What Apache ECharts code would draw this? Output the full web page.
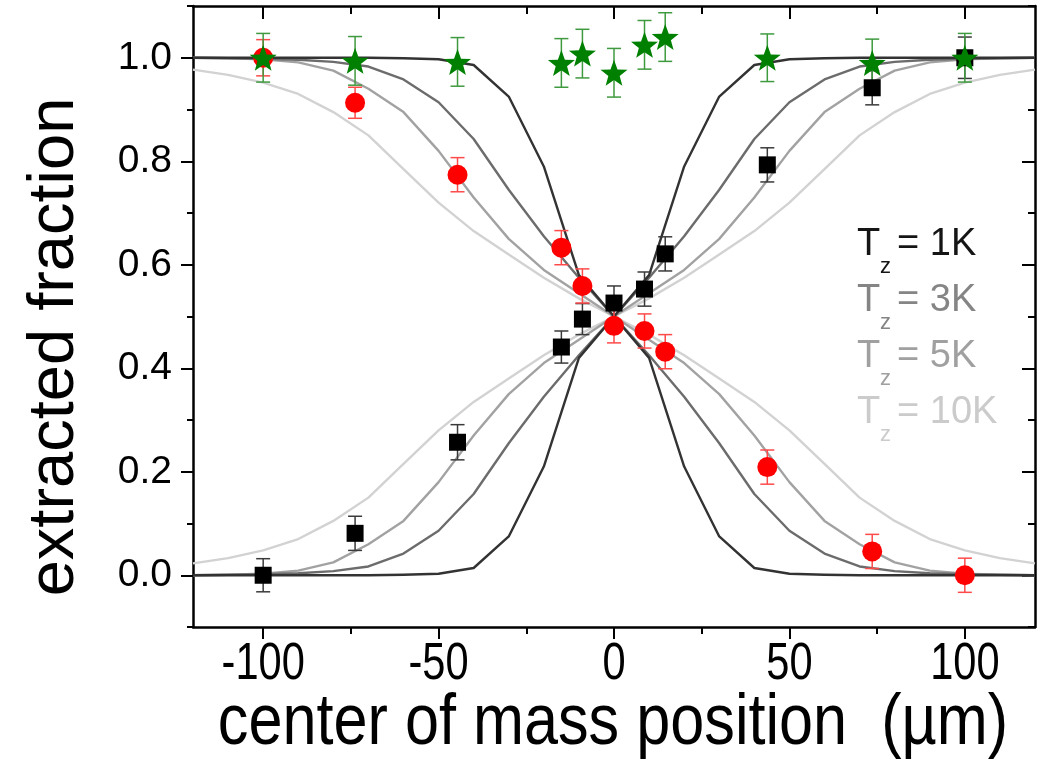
<!DOCTYPE html>
<html>
<head>
<meta charset="utf-8">
<script src="https://cdn.jsdelivr.net/npm/echarts@6/dist/echarts.min.js"></script>
<style>
  html, body { margin: 0; padding: 0; background: #ffffff; }
  #chart { width: 1050px; height: 764px; }
</style>
</head>
<body>
<div id="chart"></div>
<script>
// ---- measured data -------------------------------------------------------
const posSquares = [-100, -73.8, -44.6, -15, -9, 0, 8.7, 14.6, 43.7, 73.6, 100];
const valSquares = [0.0, 0.081, 0.257, 0.441, 0.495, 0.526, 0.553, 0.621, 0.793, 0.942, 1.0];
const errSquares = [0.032, 0.033, 0.034, 0.031, 0.030, 0.033, 0.033, 0.033, 0.033, 0.033, 0.040];

const posCircles = [-100, -73.8, -44.6, -15, -9, 0, 8.7, 14.6, 43.7, 73.6, 100];
const valCircles = [1.0, 0.913, 0.774, 0.633, 0.559, 0.482, 0.472, 0.432, 0.209, 0.046, 0.0];
const errCircles = [0.035, 0.030, 0.033, 0.033, 0.033, 0.033, 0.033, 0.033, 0.033, 0.033, 0.033];

const posStars = [-100, -73.8, -44.6, -15, -9, 0, 8.7, 14.6, 43.7, 73.6, 100];
const valStars = [1.0, 0.994, 0.992, 0.990, 1.008, 0.971, 1.025, 1.040, 1.000, 0.990, 1.0];
const errStars = [0.047, 0.047, 0.047, 0.047, 0.047, 0.047, 0.047, 0.047, 0.046, 0.046, 0.047];

// model curves, sampled every 10 µm
const curveX = [-120, -110, -100, -90, -80, -70, -60, -50, -40, -30, -20, -10, 0,
                10, 20, 30, 40, 50, 60, 70, 80, 90, 100, 110, 120];
const rise1K  = [0, 0, 0, 0, 0, 0, 0.001, 0.003, 0.014, 0.075, 0.21, 0.42, 0.5,
                 0.58, 0.79, 0.925, 0.986, 0.997, 0.999, 1, 1, 1, 1, 1, 1];
const fall1K  = [1, 1, 1, 1, 1, 1, 0.999, 0.997, 0.986, 0.925, 0.79, 0.58, 0.5,
                 0.42, 0.21, 0.075, 0.014, 0.003, 0.001, 0, 0, 0, 0, 0, 0];
const rise3K  = [0, 0.001, 0.002, 0.004, 0.008, 0.017, 0.042, 0.086, 0.157, 0.255, 0.345, 0.425, 0.5,
                 0.575, 0.655, 0.745, 0.843, 0.914, 0.958, 0.983, 0.992, 0.996, 0.998, 0.999, 1];
const fall3K  = [1, 0.999, 0.998, 0.996, 0.992, 0.983, 0.958, 0.914, 0.843, 0.745, 0.655, 0.575, 0.5,
                 0.425, 0.345, 0.255, 0.157, 0.086, 0.042, 0.017, 0.008, 0.004, 0.002, 0.001, 0];
const rise5K  = [0, 0.001, 0.003, 0.009, 0.025, 0.06, 0.105, 0.18, 0.27, 0.35, 0.41, 0.455, 0.5,
                 0.545, 0.59, 0.65, 0.73, 0.82, 0.895, 0.94, 0.975, 0.991, 0.997, 0.999, 1];
const fall5K  = [1, 0.999, 0.997, 0.991, 0.975, 0.94, 0.895, 0.82, 0.73, 0.65, 0.59, 0.545, 0.5,
                 0.455, 0.41, 0.35, 0.27, 0.18, 0.105, 0.06, 0.025, 0.009, 0.003, 0.001, 0];
const rise10K = [0.023, 0.033, 0.048, 0.07, 0.105, 0.15, 0.215, 0.28, 0.335, 0.38, 0.425, 0.465, 0.5,
                 0.535, 0.575, 0.62, 0.665, 0.72, 0.785, 0.85, 0.895, 0.93, 0.952, 0.967, 0.977];
const fall10K = [0.977, 0.967, 0.952, 0.93, 0.895, 0.85, 0.785, 0.72, 0.665, 0.62, 0.575, 0.535, 0.5,
                 0.465, 0.425, 0.38, 0.335, 0.28, 0.215, 0.15, 0.105, 0.07, 0.048, 0.033, 0.023];

// axis ticks and labels
const xMajorTicks = [-100, -50, 0, 50, 100];
const xMinorTicks = [-75, -25, 25, 75];
const yMajorTicks = [0.0, 0.2, 0.4, 0.6, 0.8, 1.0];
const yMinorTicks = [-0.1, 0.1, 0.3, 0.5, 0.7, 0.9, 1.1];

const legendLabels = ['1K', '3K', '5K', '10K'];
const xTitle = 'center of mass position  (µm)';
const yTitle = 'extracted fraction';

// ---- styling -------------------------------------------------------------
const curveColors = { '1K': '#333333', '3K': '#6c6c6c', '5K': '#a2a2a2', '10K': '#d2d2d2' };
const legendColors = ['#151515', '#858585', '#a0a0a0', '#cbcbcb'];
const AXIS = '#000000';
const SANS = '"Liberation Sans", Arial, sans-serif';
// five-pointed star with fairly thick arms
const STAR = 'path://M50,0 L63,36 L100,37 L71,60 L81,96 L50,75 L19,96 L29,60 L0,37 L37,36 Z';

const zip = (xs, ys) => xs.map((x, i) => [x, ys[i]]);
const bars = (xs, ys, es) => xs.map((x, i) => [x, ys[i] - es[i], ys[i] + es[i]]);

function curve(values, color) {
  return {
    type: 'line', data: zip(curveX, values), xAxisIndex: 0, yAxisIndex: 0,
    showSymbol: false, symbol: 'none', smooth: false, silent: true, z: 2,
    lineStyle: { color: color, width: 2.4, join: 'round' }
  };
}

function errorBars(xs, ys, es, color, cap) {
  return {
    type: 'custom', xAxisIndex: 0, yAxisIndex: 0, silent: true, z: 3,
    data: bars(xs, ys, es),
    renderItem: function (params, api) {
      const lo = api.coord([api.value(0), api.value(1)]);
      const hi = api.coord([api.value(0), api.value(2)]);
      const st = { stroke: color, lineWidth: 1.5 };
      return {
        type: 'group',
        children: [
          { type: 'line', shape: { x1: lo[0], y1: lo[1], x2: hi[0], y2: hi[1] }, style: st },
          { type: 'line', shape: { x1: lo[0] - cap, y1: lo[1], x2: lo[0] + cap, y2: lo[1] }, style: st },
          { type: 'line', shape: { x1: hi[0] - cap, y1: hi[1], x2: hi[0] + cap, y2: hi[1] }, style: st }
        ]
      };
    }
  };
}

function markers(xs, ys, symbol, size, color, z) {
  return {
    type: 'scatter', xAxisIndex: 0, yAxisIndex: 0, silent: true, z: z,
    data: zip(xs, ys), symbol: symbol, symbolSize: size,
    itemStyle: { color: color, opacity: 1 }
  };
}

function xAxisDef(pos, ticks, len, inside, withLine) {
  return {
    type: 'value', position: pos, min: -120, max: 120,
    axisLine: { show: withLine, onZero: false, lineStyle: { color: AXIS, width: 2.5 } },
    axisTick: { show: true, inside: inside, length: len, customValues: ticks, lineStyle: { color: AXIS, width: 2 } },
    axisLabel: { show: false, customValues: ticks },
    splitLine: { show: false }, minorTick: { show: false }
  };
}

function yAxisDef(pos, ticks, len, inside, withLine, withLabels) {
  return {
    type: 'value', position: pos, min: -0.1, max: 1.1,
    axisLine: { show: withLine, onZero: false, lineStyle: { color: AXIS, width: 2.5 } },
    axisTick: { show: true, inside: inside, length: len, customValues: ticks, lineStyle: { color: AXIS, width: 2 } },
    axisLabel: withLabels
      ? { show: true, margin: 21, customValues: ticks, formatter: v => v.toFixed(1),
          fontFamily: SANS, fontSize: 39, color: '#000' }
      : { show: false, customValues: ticks },
    splitLine: { show: false }, minorTick: { show: false }
  };
}

// legend block: T with subscript z, then "= …K"
const legendGraphics = [];
legendLabels.forEach((lab, i) => {
  const cy = 245 + i * 56;
  const c = legendColors[i];
  legendGraphics.push(
    { type: 'text', id: 'lgT' + i, x: 857, y: cy, style: { text: 'T', fill: c, font: '38px ' + SANS, verticalAlign: 'middle', align: 'left' } },
    { type: 'text', id: 'lgZ' + i, x: 880, y: cy + 22, style: { text: 'z', fill: c, font: '22px ' + SANS, verticalAlign: 'middle', align: 'left' } },
    { type: 'text', id: 'lgV' + i, x: 897, y: cy, style: { text: '= ' + lab, fill: c, font: '38px ' + SANS, verticalAlign: 'middle', align: 'left' } }
  );
});

const chart = echarts.init(document.getElementById('chart'), null, { renderer: 'canvas' });

chart.setOption({
  backgroundColor: '#ffffff',
  animation: false,
  grid: { left: 193, right: 15, top: 6, bottom: 137, containLabel: false },
  xAxis: [
    xAxisDef('bottom', xMajorTicks, 12, false, true),
    xAxisDef('bottom', xMinorTicks, 7, false, false),
    xAxisDef('top', xMajorTicks, 13, true, true),
    xAxisDef('top', xMinorTicks, 8, true, false)
  ],
  yAxis: [
    yAxisDef('left', yMajorTicks, 12, false, true, true),
    yAxisDef('left', yMinorTicks, 6, false, false, false),
    yAxisDef('right', yMajorTicks, 13, true, true, false),
    yAxisDef('right', yMinorTicks, 7, true, false, false)
  ],
  series: [
    curve(rise10K, curveColors['10K']), curve(fall10K, curveColors['10K']),
    curve(rise5K, curveColors['5K']),   curve(fall5K, curveColors['5K']),
    curve(rise3K, curveColors['3K']),   curve(fall3K, curveColors['3K']),
    curve(rise1K, curveColors['1K']),   curve(fall1K, curveColors['1K']),
    errorBars(posSquares, valSquares, errSquares, '#3a3a3a', 7),
    errorBars(posCircles, valCircles, errCircles, '#ff4a4a', 7),
    errorBars(posStars, valStars, errStars, '#3f9a3f', 7),
    markers(posSquares, valSquares, 'rect', 17, '#000000', 5),
    markers(posCircles, valCircles, 'circle', 20, '#ff0000', 6),
    markers(posStars, valStars, STAR, [27, 26], '#008000', 7)
  ]
});

// bottom tick labels in a condensed face, placed with the axis scale
const yBase = chart.convertToPixel({ yAxisIndex: 0 }, -0.1);
const xTickLabels = xMajorTicks.map((v, i) => ({
  type: 'text', id: 'xl' + i,
  x: chart.convertToPixel({ xAxisIndex: 0 }, v), y: yBase + 38, scaleX: 0.8,
  style: { text: String(v), fill: '#000', font: '52px ' + SANS, align: 'center', verticalAlign: 'middle' }
}));

const titles = [
  { type: 'text', id: 'yTitle', x: 55, y: 347, rotation: Math.PI / 2,
    style: { text: yTitle, fill: '#000', font: '65px ' + SANS, align: 'center', verticalAlign: 'middle' } },
  { type: 'text', id: 'xTitle', x: 613, y: 724, scaleX: 0.85,
    style: { text: xTitle, fill: '#000', font: '72px ' + SANS, align: 'center', verticalAlign: 'middle' } }
];

chart.setOption({ graphic: titles.concat(xTickLabels, legendGraphics) });
</script>
</body>
</html>
